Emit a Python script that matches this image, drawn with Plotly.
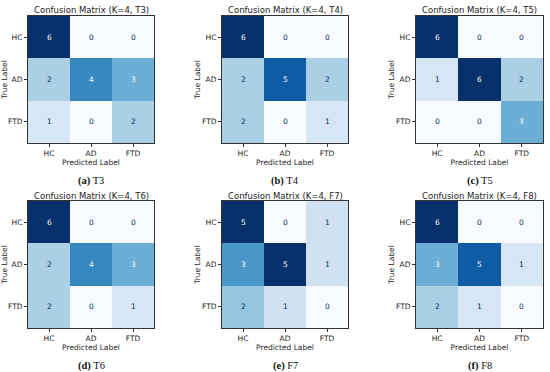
import plotly.graph_objects as go

labels = ["HC", "AD", "FTD"]
titles = ["Confusion Matrix (K=4, T3)", "Confusion Matrix (K=4, T4)", "Confusion Matrix (K=4, T5)",
          "Confusion Matrix (K=4, T6)", "Confusion Matrix (K=4, F7)", "Confusion Matrix (K=4, F8)"]
captions = ["<b>(a)</b> T3", "<b>(b)</b> T4", "<b>(c)</b> T5", "<b>(d)</b> T6", "<b>(e)</b> F7", "<b>(f)</b> F8"]

cm_t3 = [[6, 0, 0], [2, 4, 3], [1, 0, 2]]
cm_t4 = [[6, 0, 0], [2, 5, 2], [2, 0, 1]]
cm_t5 = [[6, 0, 0], [1, 6, 2], [0, 0, 3]]
cm_t6 = [[6, 0, 0], [2, 4, 3], [2, 0, 1]]
cm_f7 = [[5, 0, 1], [3, 5, 1], [2, 1, 0]]
cm_f8 = [[6, 0, 0], [3, 5, 1], [2, 1, 0]]
matrices = [cm_t3, cm_t4, cm_t5, cm_t6, cm_f7, cm_f8]

blues = ["#f7fbff", "#deebf7", "#c6dbef", "#9ecae1", "#6baed6", "#4292c6", "#2171b5", "#08519c", "#08306b"]
colorscale = [[i / 8, c] for i, c in enumerate(blues)]

W, H = 550, 372
col_px = [(28, 154), (222, 348), (416, 543)]
row_px = [(16, 143), (201, 328)]

fig = go.Figure()
annotations = []
font = "DejaVu Sans"

for k, cm in enumerate(matrices):
    r, c = divmod(k, 3)
    x0, x1 = col_px[c]
    y0, y1 = row_px[r]
    xd = [x0 / W, x1 / W]
    yd = [1 - y1 / H, 1 - y0 / H]
    n = k + 1
    xa = "x" if n == 1 else f"x{n}"
    ya = "y" if n == 1 else f"y{n}"
    zmax = max(max(row) for row in cm)
    fig.add_trace(go.Heatmap(z=cm, x=labels, y=labels, colorscale=colorscale, zmin=0, zmax=zmax,
                             showscale=False, xaxis=xa, yaxis=ya, hoverinfo="skip"))
    axis_common = dict(showline=True, mirror=True, linecolor="#333333", linewidth=1, automargin=False,
                       ticks="outside", ticklen=3, tickcolor="#333333", showgrid=False, zeroline=False,
                       tickfont=dict(family=font, size=7.5, color="#222222"))
    fig.update_layout(**{
        ("xaxis" if n == 1 else f"xaxis{n}"): dict(domain=xd, anchor=ya, **axis_common,
                                                    title=dict(text="Predicted Label", standoff=0,
                                                               font=dict(family=font, size=7.5, color="#222222"))),
        ("yaxis" if n == 1 else f"yaxis{n}"): dict(domain=yd, anchor=xa, autorange="reversed", **axis_common,
                                                    title=dict(text="True Label", standoff=0,
                                                               font=dict(family=font, size=7.5, color="#222222"))),
    })
    thresh = zmax / 2
    for i, row in enumerate(cm):
        for j, v in enumerate(row):
            annotations.append(dict(x=labels[j], y=labels[i], xref=xa, yref=ya, text=str(v), showarrow=False,
                                    font=dict(family=font, size=7.5,
                                              color="#f7fbff" if v >= thresh else "#0b2a55")))
    xc = (x0 + x1) / 2 / W
    annotations.append(dict(x=xc, y=1 - (y0 - 5.5) / H, xref="paper", yref="paper", text=titles[k],
                            showarrow=False, font=dict(family=font, size=8.5, color="#222222"),
                            xanchor="center", yanchor="middle"))
    annotations.append(dict(x=xc, y=1 - (y1 + 38) / H, xref="paper", yref="paper", text=captions[k],
                            showarrow=False, font=dict(family="Liberation Serif", size=10.5, color="#111111"),
                            xanchor="center", yanchor="middle"))

fig.update_layout(width=W, height=H, margin=dict(l=0, r=0, t=0, b=0),
                  paper_bgcolor="white", plot_bgcolor="white", annotations=annotations, showlegend=False)
fig.write_html("out.html", config={"displayModeBar": False},
               post_script="document.body.style.margin='0';document.body.style.overflow='hidden';")
